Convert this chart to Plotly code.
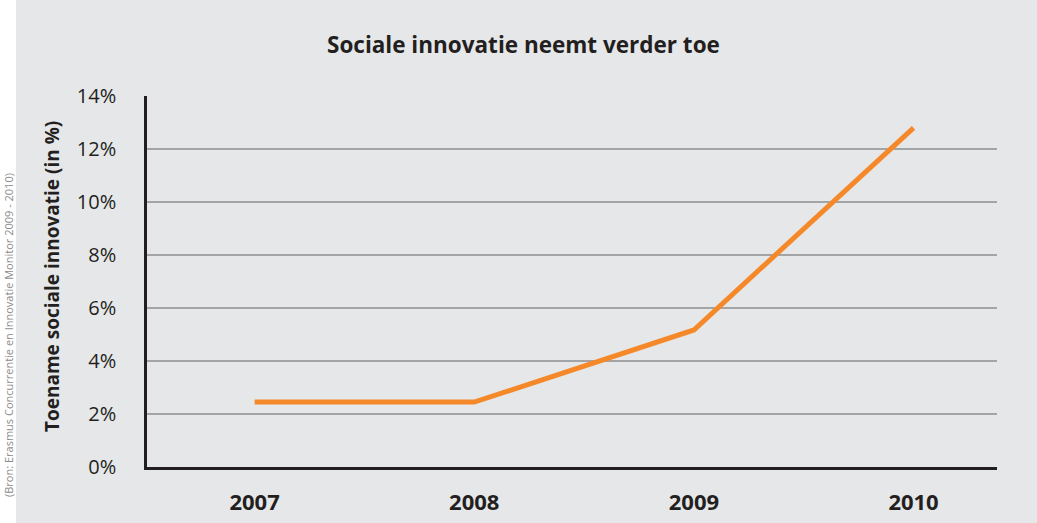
import plotly.graph_objects as go

# Share of firms reporting social innovation growth, per year
years = ["2007", "2008", "2009", "2010"]
toename = [2.45, 2.45, 5.17, 12.8]
y_ticks = [0, 2, 4, 6, 8, 10, 12, 14]
y_tick_labels = ["0%", "2%", "4%", "6%", "8%", "10%", "12%", "14%"]

W, H = 1037, 523
L, R, T, B = 147, 40, 96, 56
PW, PH = W - L - R, H - T - B
BG = "#e6e7e9"
INK = "#231f20"
FONT = "Open Sans, Lato, sans-serif"

fig = go.Figure(
    go.Scatter(
        x=years,
        y=toename,
        mode="lines",
        line=dict(color="#f5892a", width=5),
        hoverinfo="skip",
    )
)

fig.update_layout(
    width=W,
    height=H,
    margin=dict(l=L, r=R, t=T, b=B, autoexpand=False),
    paper_bgcolor=BG,
    plot_bgcolor=BG,
    showlegend=False,
    font=dict(family=FONT, color=INK, size=18),
)

fig.update_xaxes(
    type="category",
    range=[-0.49, 3.38],
    automargin=False,
    showgrid=False,
    showline=True,
    linecolor=INK,
    linewidth=2.5,
    ticks="",
    ticklabelstandoff=14,
    tickfont=dict(family=FONT, size=22, color=INK, weight="bold"),
    zeroline=False,
)

fig.update_yaxes(
    range=[0, 14],
    automargin=False,
    tickvals=y_ticks,
    ticktext=y_tick_labels,
    showgrid=True,
    gridcolor="#a3a4a6",
    gridwidth=1.5,
    showline=True,
    linecolor=INK,
    linewidth=2.5,
    ticks="",
    ticklabelstandoff=24,
    tickfont=dict(family=FONT, size=20, color=INK),
    zeroline=False,
)

# White strip on the left edge carrying the source note
fig.add_shape(
    type="rect", xref="paper", yref="paper",
    x0=-L / PW, x1=-(L - 16) / PW, y0=-1, y1=2,
    fillcolor="white", line=dict(width=0), layer="below",
)

fig.add_annotation(
    text="<b>Sociale innovatie neemt verder toe</b>",
    xref="paper", yref="paper",
    x=(523 - L) / PW, y=1 + (T - 44) / PH,
    xanchor="center", yanchor="middle", showarrow=False,
    font=dict(family=FONT, size=22.5, color=INK),
)

fig.add_annotation(
    text="<b>Toename sociale innovatie (in %)</b>",
    xref="paper", yref="paper",
    x=-(L - 52) / PW, y=(T + PH - 277) / PH,
    xanchor="center", yanchor="middle", textangle=-90, showarrow=False,
    font=dict(family=FONT, size=19, color=INK),
)

fig.add_annotation(
    text="(Bron: Erasmus Concurrentie en Innovatie Monitor 2009 - 2010)",
    xref="paper", yref="paper",
    x=-(L - 8) / PW, y=(T + PH - 335) / PH,
    xanchor="center", yanchor="middle", textangle=-90, showarrow=False,
    font=dict(family=FONT, size=11, color="#8a8b8d"),
)

fig.write_html("out.html")
